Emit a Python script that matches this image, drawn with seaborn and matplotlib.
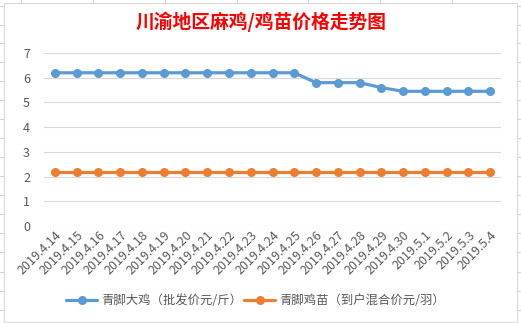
import matplotlib
matplotlib.use("Agg")
import matplotlib.pyplot as plt
import seaborn as sns
import pandas as pd
from matplotlib.lines import Line2D
from matplotlib.patches import Rectangle

dates = ["2019.4.14", "2019.4.15", "2019.4.16", "2019.4.17", "2019.4.18", "2019.4.19",
         "2019.4.20", "2019.4.21", "2019.4.22", "2019.4.23", "2019.4.24", "2019.4.25",
         "2019.4.26", "2019.4.27", "2019.4.28", "2019.4.29", "2019.4.30", "2019.5.1",
         "2019.5.2", "2019.5.3", "2019.5.4"]
big_chicken = [6.2, 6.2, 6.2, 6.2, 6.2, 6.2, 6.2, 6.2, 6.2, 6.2, 6.2, 6.2,
               5.8, 5.8, 5.8, 5.6, 5.45, 5.45, 5.45, 5.45, 5.45]
chick = [2.2] * 21
series_names = ["青脚大鸡（批发价元/斤）", "青脚鸡苗（到户混合价元/羽）"]
title = "川渝地区麻鸡/鸡苗价格走势图"
yticks = [0, 1, 2, 3, 4, 5, 6, 7]

df = pd.DataFrame({
    "date": dates * 2,
    "price": big_chicken + chick,
    "series": [series_names[0]] * len(dates) + [series_names[1]] * len(dates),
})

sns.set_theme(style="white")
plt.rcParams['font.family'] = ['Noto Sans CJK SC', 'DejaVu Sans']

W, H = 521, 323
fig = plt.figure(figsize=(W / 100, H / 100), dpi=100)

# spreadsheet cell lines behind the chart
cell = "#D4D4D4"
for x in [20.7, 92.7, 164.7, 236.7, 308.3, 380.3, 452.3]:
    fig.add_artist(Line2D([x / W, x / W], [0, 1], color=cell, lw=0.8, zorder=0))
for y in [6.3, 25, 43.3, 62.3, 81, 100, 119, 137.7, 156.7, 175.7, 195, 214, 233, 252, 271.7, 290.7, 309.7]:
    fig.add_artist(Line2D([0, 1], [1 - y / H, 1 - y / H], color=cell, lw=0.8, zorder=0))
# chart box
fig.add_artist(Rectangle((3.5 / W, 1 - 321.5 / H), (517 - 3.5) / W, (321.5 - 3) / H,
                         facecolor="white", edgecolor="#D9D9D9", lw=0.8, zorder=1))

ax = fig.add_axes([44 / W, 1 - 226 / H, (501 - 44) / W, (226 - 53) / H], zorder=2)
ax.patch.set_alpha(0)

palette = {series_names[0]: "#5B9BD5", series_names[1]: "#ED7D31"}
sns.lineplot(data=df, x="date", y="price", hue="series", palette=palette, sort=False,
             marker="o", markersize=6.5, markeredgewidth=0, linewidth=2.3, ax=ax,
             legend=True)

ax.set_ylim(0, 7)
ax.set_xlim(-0.5, len(dates) - 0.5)
ax.set_yticks(yticks)
ax.set_yticklabels([str(v) for v in yticks])
ax.yaxis.grid(True, color="#D9D9D9", lw=0.8)
ax.set_axisbelow(True)
for s in ax.spines.values():
    s.set_visible(False)
ax.set_xlabel("")
ax.set_ylabel("")
ax.tick_params(axis="y", length=0, pad=10, labelsize=9, labelcolor="#595959")
ax.tick_params(axis="x", length=0, pad=2, labelsize=9, labelcolor="#595959")
plt.setp(ax.get_xticklabels(), rotation=45, ha="right", rotation_mode="anchor")

handles, labels = ax.get_legend_handles_labels()
ax.legend(handles, labels, loc="center", bbox_to_anchor=((255.5 - 44) / 457, -(301 - 226) / (226 - 53)),
          ncol=2, frameon=False, fontsize=8.9, labelcolor="#595959",
          handlelength=2.5, columnspacing=0.2, handletextpad=0.3)

fig.text(261 / W, 1 - 22 / H, title, color="#FF0000", fontsize=13.5, fontweight="bold",
         ha="center", va="center", zorder=3)

fig.savefig("out.png", dpi=100)
